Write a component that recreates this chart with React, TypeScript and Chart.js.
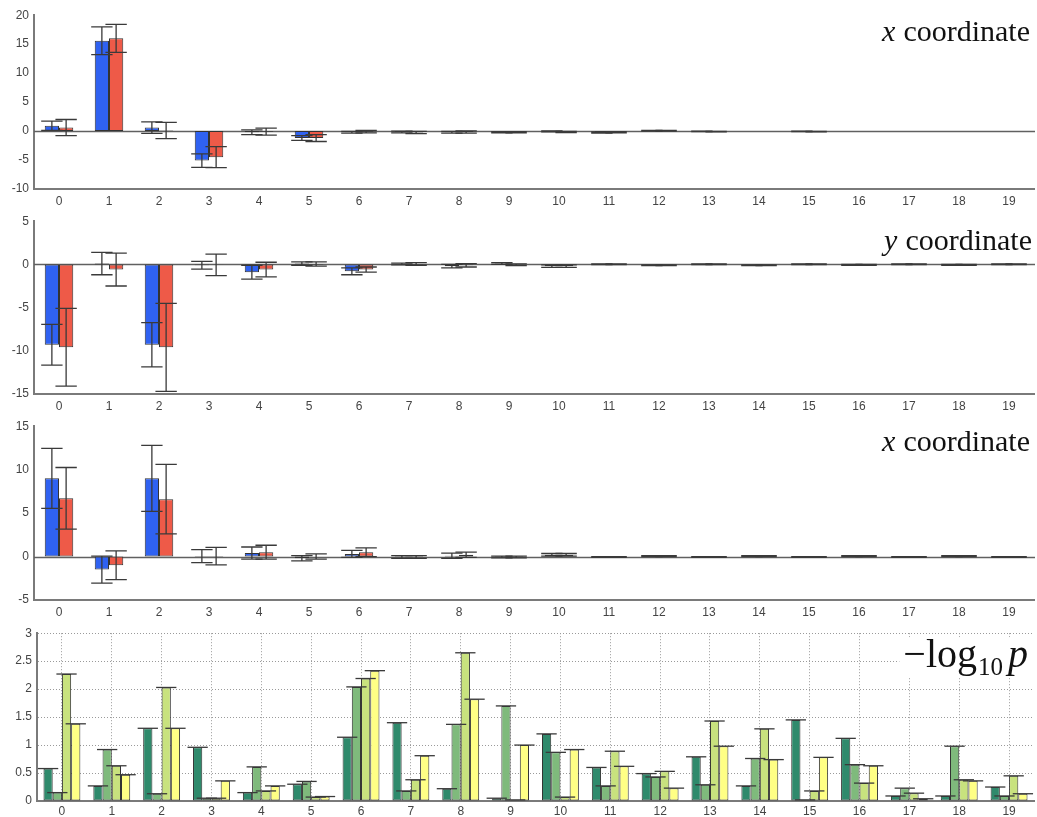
import React, { useEffect, useRef } from "react";
import { Chart, registerables } from "chart.js";

Chart.register(...registerables);

// ---------- data ----------
const categories = ["0", "1", "2", "3", "4", "5", "6", "7", "8", "9", "10", "11", "12", "13", "14", "15", "16", "17", "18", "19"];

// panel 1: x coordinate
const xBlue = [0.9, 15.6, 0.6, -5.1, -0.2, -1.2, -0.2, -0.15, -0.2, -0.2, -0.05, -0.25, 0.05, -0.05, 0, -0.05, 0, 0, 0, 0];
const xBlueErr = [0.8, 2.4, 1.0, 1.15, 0.4, 0.4, 0.15, 0.15, 0.15, 0.1, 0.1, 0.1, 0.05, 0.05, 0, 0.05, 0, 0, 0, 0];
const xRed = [0.6, 16.0, 0.1, -4.5, -0.1, -1.2, -0.1, -0.25, -0.15, -0.2, -0.15, -0.2, 0.05, -0.1, 0, -0.1, 0, 0, 0, 0];
const xRedErr = [1.4, 2.4, 1.4, 1.8, 0.6, 0.6, 0.2, 0.2, 0.2, 0.1, 0.1, 0.1, 0.05, 0.05, 0, 0.05, 0, 0, 0, 0];

// panel 2: y coordinate
const yBlue = [-9.3, 0.1, -9.3, -0.1, -0.9, 0.1, -0.8, 0.05, -0.2, 0.1, -0.2, 0.02, -0.1, 0.02, -0.1, 0.02, -0.05, 0.02, -0.05, 0.02];
const yBlueErr = [2.35, 1.3, 2.55, 0.45, 0.8, 0.2, 0.4, 0.1, 0.2, 0.1, 0.15, 0.05, 0.05, 0.05, 0.05, 0.05, 0.05, 0.05, 0.05, 0.05];
const yRed = [-9.6, -0.6, -9.6, -0.05, -0.6, 0.05, -0.6, 0.05, -0.1, -0.05, -0.2, 0.02, -0.1, 0.02, -0.1, 0.02, -0.05, 0.02, -0.05, 0.02];
const yRedErr = [4.5, 1.9, 5.1, 1.25, 0.85, 0.25, 0.3, 0.15, 0.2, 0.1, 0.15, 0.05, 0.05, 0.05, 0.05, 0.05, 0.05, 0.05, 0.05, 0.05];

// panel 3: x coordinate (second)
const x2Blue = [9.0, -1.5, 9.0, 0.05, 0.4, -0.2, 0.3, -0.05, 0.1, -0.05, 0.2, -0.05, 0.05, -0.05, 0.05, -0.05, 0.05, -0.05, 0.05, -0.05];
const x2BlueErr = [3.45, 1.55, 3.8, 0.75, 0.7, 0.3, 0.4, 0.15, 0.3, 0.1, 0.15, 0.05, 0.05, 0.05, 0.05, 0.05, 0.05, 0.05, 0.05, 0.05];
const x2Red = [6.7, -1.0, 6.6, 0.05, 0.5, 0.0, 0.5, -0.05, 0.2, -0.05, 0.2, -0.05, 0.05, -0.05, 0.05, -0.05, 0.05, -0.05, 0.05, -0.05];
const x2RedErr = [3.55, 1.65, 4.0, 1.0, 0.8, 0.3, 0.5, 0.15, 0.3, 0.1, 0.15, 0.05, 0.05, 0.05, 0.05, 0.05, 0.05, 0.05, 0.05, 0.05];

// panel 4: -log10 p
const p1 = [0.58, 0.27, 1.3, 0.96, 0.15, 0.3, 1.14, 1.4, 0.22, 0.05, 1.2, 0.6, 0.49, 0.79, 0.27, 1.45, 1.12, 0.09, 0.09, 0.25];
const p2 = [0.15, 0.92, 0.13, 0.05, 0.61, 0.35, 2.04, 0.18, 1.37, 1.7, 0.87, 0.27, 0.43, 0.29, 0.76, 0.02, 0.65, 0.23, 0.98, 0.09];
const p3 = [2.27, 0.63, 2.03, 0.05, 0.18, 0.07, 2.19, 0.38, 2.65, 0.02, 0.07, 0.89, 0.53, 1.43, 1.29, 0.18, 0.32, 0.14, 0.38, 0.45];
const p4 = [1.38, 0.47, 1.3, 0.36, 0.27, 0.08, 2.33, 0.81, 1.82, 1.0, 0.92, 0.62, 0.23, 0.98, 0.74, 0.78, 0.63, 0.04, 0.36, 0.13];

// ---------- styles ----------
const BLUE = "#2f62f2";
const RED = "#ee5a48";
const G1 = "#2f8a6c";
const G2 = "#7fba7c";
const G3 = "#c8e27e";
const G4 = "#ffff85";
const SANS = '"Liberation Sans", Arial, sans-serif';
const SERIF = '"Liberation Serif", "DejaVu Serif", serif';

// ---------- plugins ----------
const errorBarPlugin = {
  id: "errorBars",
  afterDatasetsDraw(chart: any, _a: any, opts: any) {
    const ctx = chart.ctx;
    const ys = chart.scales.y;
    ctx.save();
    ctx.strokeStyle = "#3a3a3a";
    ctx.lineWidth = 1.3;
    chart.data.datasets.forEach((ds: any, i: number) => {
      const meta = chart.getDatasetMeta(i);
      meta.data.forEach((el: any, j: number) => {
        const v = ds.data[j];
        const cw = el.width * opts.capScale;
        const x = el.x;
        if (ds.errors) {
          const e = ds.errors[j];
          if (!e) return;
          const yT = ys.getPixelForValue(v + e);
          const yB = ys.getPixelForValue(v - e);
          ctx.beginPath();
          ctx.moveTo(x, yT);
          ctx.lineTo(x, yB);
          ctx.moveTo(x - cw / 2, yT);
          ctx.lineTo(x + cw / 2, yT);
          ctx.moveTo(x - cw / 2, yB);
          ctx.lineTo(x + cw / 2, yB);
          ctx.stroke();
        } else {
          const yv = ys.getPixelForValue(v);
          ctx.beginPath();
          ctx.moveTo(x - cw / 2, yv);
          ctx.lineTo(x + cw / 2, yv);
          ctx.stroke();
        }
      });
    });
    ctx.restore();
  },
};

const zeroLinePlugin = {
  id: "zeroLine",
  beforeDatasetsDraw(chart: any, _a: any, opts: any) {
    if (!opts.show) return;
    const ctx = chart.ctx;
    const y = Math.round(chart.scales.y.getPixelForValue(0)) + 0.5;
    const { left, right } = chart.chartArea;
    ctx.save();
    ctx.strokeStyle = "#606060";
    ctx.lineWidth = 1.3;
    ctx.beginPath();
    ctx.moveTo(left, y);
    ctx.lineTo(right + 1, y);
    ctx.stroke();
    ctx.restore();
  },
};

const cornerTitlePlugin = {
  id: "cornerTitle",
  afterDraw(chart: any, _a: any, opts: any) {
    const parts = opts.parts;
    if (!parts) return;
    const ctx = chart.ctx;
    const { right, top } = chart.chartArea;
    ctx.save();
    ctx.textBaseline = "alphabetic";
    const fontOf = (p: any) => `${p.italic ? "italic " : ""}${p.size}px ${SERIF}`;
    const widths = parts.map((p: any) => {
      ctx.font = fontOf(p);
      return ctx.measureText(p.text).width + (p.gap || 0);
    });
    const total = widths.reduce((a: number, b: number) => a + b, 0);
    let x = right - opts.dx - total;
    const base = top + opts.dy;
    if (opts.bg) {
      ctx.fillStyle = "#ffffff";
      ctx.fillRect(x - 4, base - opts.bgH, total + 8, opts.bgH + 10);
    }
    ctx.fillStyle = "#111";
    parts.forEach((p: any, k: number) => {
      ctx.font = fontOf(p);
      ctx.fillText(p.text, x + (p.gap || 0), base + (p.sub || 0));
      x += widths[k];
    });
    ctx.restore();
  },
};

// ---------- panels ----------
type PanelCfg = {
  top: number;
  height: number;
  xH: number;
  yW: number;
  xPad: number;
  min: number;
  max: number;
  step: number;
  grid: boolean;
  catPct: number;
  capScale: number;
  zero: boolean;
  title: any;
  datasets: any[];
};

const panels: PanelCfg[] = [
  {
    top: 3, height: 206, xH: 20, yW: 34, xPad: 5, min: -10, max: 20, step: 5, grid: false, catPct: 0.57, capScale: 1.5, zero: true,
    title: { dx: 4, dy: 26, parts: [{ text: "x", italic: true, size: 30 }, { text: "coordinate", size: 30, gap: 8 }] },
    datasets: [
      { data: xBlue, errors: xBlueErr, backgroundColor: BLUE },
      { data: xRed, errors: xRedErr, backgroundColor: RED },
    ],
  },
  {
    top: 209, height: 205, xH: 20, yW: 34, xPad: 5, min: -15, max: 5, step: 5, grid: false, catPct: 0.57, capScale: 1.5, zero: true,
    title: { dx: 2, dy: 29, parts: [{ text: "y", italic: true, size: 30 }, { text: "coordinate", size: 30, gap: 8 }] },
    datasets: [
      { data: yBlue, errors: yBlueErr, backgroundColor: BLUE },
      { data: yRed, errors: yRedErr, backgroundColor: RED },
    ],
  },
  {
    top: 414, height: 206, xH: 20, yW: 34, xPad: 5, min: -5, max: 15, step: 5, grid: false, catPct: 0.57, capScale: 1.5, zero: true,
    title: { dx: 4, dy: 25, parts: [{ text: "x", italic: true, size: 30 }, { text: "coordinate", size: 30, gap: 8 }] },
    datasets: [
      { data: x2Blue, errors: x2BlueErr, backgroundColor: BLUE },
      { data: x2Red, errors: x2RedErr, backgroundColor: RED },
    ],
  },
  {
    top: 621, height: 196, xH: 16, yW: 37, xPad: 3, min: 0, max: 3, step: 0.5, grid: true, catPct: 0.74, capScale: 2.2, zero: false,
    title: {
      dx: 6, dy: 34, bg: true, bgH: 30,
      parts: [
        { text: "\u2212log", size: 40 },
        { text: "10", size: 25, sub: 8, gap: 1 },
        { text: "p", italic: true, size: 40, gap: 5 },
      ],
    },
    datasets: [
      { data: p1, backgroundColor: G1 },
      { data: p2, backgroundColor: G2 },
      { data: p3, backgroundColor: G3 },
      { data: p4, backgroundColor: G4 },
    ],
  },
];

function makeConfig(p: PanelCfg): any {
  return {
    type: "bar",
    data: {
      labels: categories,
      datasets: p.datasets.map((d) => ({
        ...d,
        borderColor: "#333333",
        borderWidth: 1,
        borderSkipped: false,
        categoryPercentage: p.catPct,
        barPercentage: 1,
      })),
    },
    options: {
      responsive: false,
      animation: false,
      events: [],
      layout: { padding: { top: 4, right: 3, left: 0, bottom: 0 }, autoPadding: false },
      plugins: {
        legend: { display: false },
        tooltip: { enabled: false },
        errorBars: { capScale: p.capScale },
        zeroLine: { show: p.zero },
        cornerTitle: p.title,
      },
      scales: {
        x: {
          grid: { display: p.grid, offset: false, color: "#9a9a9a", drawTicks: false, lineWidth: 1 },
          border: { display: true, color: "#7a7a7a", width: 2, dash: p.grid ? [1, 2] : undefined },
          ticks: { color: "#444", font: { size: 12, family: SANS }, padding: p.xPad, maxRotation: 0, autoSkip: false },
          afterFit: (s: any) => {
            s.height = p.xH;
          },
        },
        y: {
          min: p.min,
          max: p.max,
          grid: { display: p.grid, color: "#9a9a9a", drawTicks: false, lineWidth: 1 },
          border: { display: true, color: "#7a7a7a", width: 2, dash: p.grid ? [1, 2] : undefined },
          ticks: {
            stepSize: p.step,
            color: "#444",
            font: { size: 12, family: SANS },
            padding: 5,
            callback: (v: any) => String(v),
          },
          afterFit: (s: any) => {
            s.width = p.yW;
          },
        },
      },
    },
    plugins: [errorBarPlugin, zeroLinePlugin, cornerTitlePlugin],
  };
}

function Panel({ cfg }: { cfg: PanelCfg }) {
  const ref = useRef<HTMLCanvasElement>(null);
  useEffect(() => {
    if (!ref.current) return;
    const chart = new Chart(ref.current, makeConfig(cfg));
    return () => chart.destroy();
  }, [cfg]);
  return (
    <canvas
      ref={ref}
      width={1037}
      height={cfg.height}
      style={{ position: "absolute", left: 0, top: cfg.top, width: 1037, height: cfg.height }}
    />
  );
}

export default function App() {
  return (
    <div
      style={{
        position: "absolute",
        left: 0,
        top: 0,
        width: 1037,
        height: 817,
        overflow: "hidden",
        background: "#ffffff",
      }}
    >
      {panels.map((p, i) => (
        <Panel key={i} cfg={p} />
      ))}
    </div>
  );
}
